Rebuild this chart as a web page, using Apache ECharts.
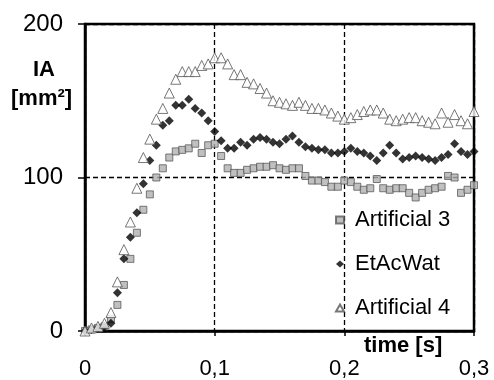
<!DOCTYPE html>
<html>
<head>
<meta charset="utf-8">
<script src="https://cdn.jsdelivr.net/npm/echarts@6/dist/echarts.min.js"></script>
<style>
  html, body { margin: 0; padding: 0; background: #fff; }
  #chart { width: 494px; height: 380px; }
</style>
</head>
<body>
<div id="chart"></div>
<script>
// time axis (s), one sample every 5 ms
const times = [0, 0.005, 0.01, 0.015, 0.02, 0.025, 0.03, 0.035, 0.04, 0.045,
  0.05, 0.055, 0.06, 0.065, 0.07, 0.075, 0.08, 0.085, 0.09, 0.095,
  0.1, 0.105, 0.11, 0.115, 0.12, 0.125, 0.13, 0.135, 0.14, 0.145,
  0.15, 0.155, 0.16, 0.165, 0.17, 0.175, 0.18, 0.185, 0.19, 0.195,
  0.2, 0.205, 0.21, 0.215, 0.22, 0.225, 0.23, 0.235, 0.24, 0.245,
  0.25, 0.255, 0.26, 0.265, 0.27, 0.275, 0.28, 0.285, 0.29, 0.295, 0.3];

// IA [mm²]
const artificial3 = [0, 1, 2, 3, 8, 17, 30, 47, 64, 79,
  89, 100, 106, 113, 117, 118, 119, 122, 116, 121,
  122, 114, 106, 103, 103, 105, 106, 107, 107, 108,
  106, 105, 106, 106, 101, 98, 98, 97, 94, 94,
  98, 97, 94, 92, 93, 99, 93, 92, 93, 93,
  90, 87, 90, 92, 93, 94, 101, 100, 90, 92, 95];

const etAcWat = [0, 1, 2, 3, 5, 25, 47, 61, 77, 96,
  111, 121, 134, 137, 147, 147, 151, 145, 142, 137,
  130, 124, 119, 119, 123, 121, 125, 126, 125, 123,
  122, 125, 127, 123, 120, 119, 118, 118, 116, 116,
  117, 119, 117, 116, 114, 111, 116, 121, 116, 112,
  113, 114, 113, 112, 111, 113, 115, 122, 117, 115, 117];

const artificial4 = [0, 2, 3, 5, 12, 32, 53, 71, 93, 113,
  125, 138, 145, 155, 164, 169, 169, 169, 173, 174,
  178, 178, 174, 167, 167, 162, 161, 158, 155, 150,
  149, 148, 147, 149, 147, 145, 145, 144, 142, 140,
  138, 139, 141, 143, 144, 144, 142, 138, 137, 138,
  139, 139, 137, 136, 135, 142, 136, 141, 137, 135, 143];

const seriesNames = ['Artificial 3', 'EtAcWat', 'Artificial 4'];
const xTicks = [0, 0.1, 0.2, 0.3];
const yTicks = [0, 100, 200];

function pairs(vals) {
  return vals.map((v, i) => [times[i], v]);
}

const chart = echarts.init(document.getElementById('chart'));
const font = 'Liberation Sans, Arial, sans-serif';

chart.setOption({
  animation: false,
  backgroundColor: '#fff',
  grid: {
    left: 85, right: 20, top: 24, bottom: 49,
    show: true, borderColor: '#000', borderWidth: 2.5
  },
  xAxis: {
    type: 'value',
    min: xTicks[0], max: xTicks[xTicks.length - 1], interval: 0.1,
    axisLine: { show: true, onZero: false, lineStyle: { color: '#000', width: 2.5 } },
    axisTick: { show: true, inside: false, length: 5, lineStyle: { color: '#000', width: 1.5 } },
    splitLine: { show: true, lineStyle: { color: '#000', width: 1.3, type: [5, 3] } },
    axisLabel: {
      margin: 27, color: '#000', fontSize: 22, fontFamily: font,
      formatter: v => String(Math.round(v * 10) / 10).replace('.', ',')
    }
  },
  yAxis: {
    type: 'value',
    min: yTicks[0], max: yTicks[yTicks.length - 1], interval: 100,
    axisLine: { show: true, lineStyle: { color: '#000', width: 2.5 } },
    axisTick: { show: true, inside: false, length: 7, lineStyle: { color: '#000', width: 1.5 } },
    splitLine: { show: true, lineStyle: { color: '#000', width: 1.3, type: [5, 3] } },
    axisLabel: { margin: 22, color: '#000', fontSize: 24, fontFamily: font }
  },
  legend: {
    orient: 'vertical',
    left: 330, top: 204,
    itemGap: 22,
    itemWidth: 8, itemHeight: 7,
    textStyle: { color: '#000', fontSize: 22, fontFamily: font, padding: [0, 0, 0, 6] },
    data: seriesNames
  },
  graphic: [
    { type: 'text', left: 33, top: 59,
      style: { text: 'IA', fill: '#000', font: 'bold 22px ' + font } },
    { type: 'text', left: 11, top: 88,
      style: { text: '[mm²]', fill: '#000', font: 'bold 22px ' + font } },
    { type: 'text', left: 364, top: 335,
      style: { text: 'time [s]', fill: '#000', font: 'bold 22px ' + font } }
  ],
  series: [
    {
      name: seriesNames[0], type: 'scatter', symbol: 'rect', symbolSize: 7,
      itemStyle: { color: '#b0b0b0', borderColor: '#5a5a5a', borderWidth: 1 },
      data: pairs(artificial3)
    },
    {
      name: seriesNames[1], type: 'scatter', symbol: 'diamond', symbolSize: 9,
      itemStyle: { color: '#000' },
      data: pairs(etAcWat)
    },
    {
      name: seriesNames[2], type: 'scatter', symbol: 'triangle', symbolSize: 10,
      itemStyle: { color: '#fff', borderColor: '#555', borderWidth: 1 },
      data: pairs(artificial4)
    }
  ]
});
</script>
</body>
</html>
